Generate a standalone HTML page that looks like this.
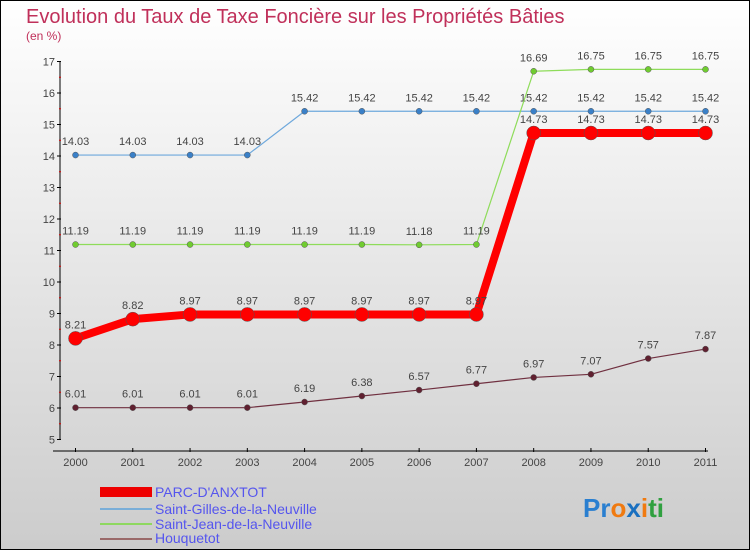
<!DOCTYPE html>
<html><head><meta charset="utf-8"><style>
body{margin:0}
#c{width:750px;height:550px;position:relative;overflow:hidden;box-sizing:border-box;border:1px solid #000;background:linear-gradient(#fff,#ccc);font-family:"Liberation Sans",sans-serif}
</style></head><body>
<div id="c">
<svg id="s" width="750" height="550" style="position:absolute;left:-1px;top:-1px">
<text x="26" y="23" font-size="20" fill="#c0305a">Evolution du Taux de Taxe Foncière sur les Propriétés Bâties</text>
<text x="26" y="40" font-size="12" fill="#c0305a">(en %)</text>
<g id="axes"></g><g id="series"></g>
<g>
<rect x="100" y="487" width="52" height="10" fill="#e00"/>
<text x="155" y="497" font-size="14" fill="#55e">PARC-D'ANXTOT</text>
<rect x="100" y="508" width="52" height="2" fill="#7aaed8"/>
<text x="155" y="514" font-size="14" fill="#55e">Saint-Gilles-de-la-Neuville</text>
<rect x="100" y="523" width="52" height="2" fill="#8ed860"/>
<text x="155" y="529" font-size="14" fill="#55e">Saint-Jean-de-la-Neuville</text>
<rect x="100" y="538" width="52" height="2" fill="#9a6a6a"/>
<text x="155" y="543" font-size="14" fill="#55e">Houquetot</text>
</g>
<text x="583" y="517" font-size="26" font-weight="bold"><tspan fill="#2a7fd0">Pr</tspan><tspan fill="#f07a10">o</tspan><tspan fill="#1a70c0">x</tspan><tspan fill="#f07a10">i</tspan><tspan fill="#30a040">ti</tspan></text>
</svg>
</div>
<script>
const years=[2000,2001,2002,2003,2004,2005,2006,2007,2008,2009,2010,2011];
const parc=[8.21,8.82,8.97,8.97,8.97,8.97,8.97,8.97,14.73,14.73,14.73,14.73];
const gilles=[14.03,14.03,14.03,14.03,15.42,15.42,15.42,15.42,15.42,15.42,15.42,15.42];
const jean=[11.19,11.19,11.19,11.19,11.19,11.19,11.18,11.19,16.69,16.75,16.75,16.75];
const houq=[6.01,6.01,6.01,6.01,6.19,6.38,6.57,6.77,6.97,7.07,7.57,7.87];
const yTicks=[5,6,7,8,9,10,11,12,13,14,15,16,17];
const NS="http://www.w3.org/2000/svg";
const X=i=>75.5+i*(705.5-75.5)/(years.length-1);
const Y=v=>439.5-(v-5)*31.5;
function mk(t,a,p){const e=document.createElementNS(NS,t);for(const k in a)e.setAttribute(k,a[k]);p.appendChild(e);return e;}
const ax=document.getElementById('axes');
let e=mk('line',{x1:60,y1:Y(17),x2:60,y2:Y(5),stroke:'#000'},ax);


e=mk('line',{x1:53,y1:451,x2:708,y2:451,stroke:'#000'},ax);


yTicks.forEach(v=>{
 mk('line',{x1:57,y1:Y(v),x2:61,y2:Y(v),stroke:'#000'},ax);
 if(v<17)mk('line',{x1:59,y1:Y(v+0.5),x2:61,y2:Y(v+0.5),stroke:'#d00'},ax);
 const t=mk('text',{x:55,y:Y(v)+4,'font-size':11,fill:'#444','text-anchor':'end'},ax);t.textContent=v;
 
 
});
years.forEach((y,i)=>{
 mk('line',{x1:X(i),y1:448,x2:X(i),y2:452,stroke:'#000'},ax);
 const t=mk('text',{x:X(i),y:466,'font-size':11,fill:'#444','text-anchor':'middle'},ax);t.textContent=y;
 
 
});
const sg=document.getElementById('series');
function series(name,vals,color,w,r,dot,lblOff){
 const g=mk('g',{},sg);
 
 
 const p=mk('polyline',{points:vals.map((v,i)=>X(i)+','+Y(v)).join(' '),fill:'none',stroke:color,'stroke-width':w,'stroke-linejoin':'round'},g);
 
 
 vals.forEach((v,i)=>{
  const c=mk('circle',{cx:X(i),cy:Y(v),r:r,fill:dot,stroke:'#555','stroke-width':0.5},g);
  
  
  const t=mk('text',{x:X(i),y:Y(v)+lblOff,'font-size':11,fill:'#444','text-anchor':'middle'},g);t.textContent=v;
  
  
 });
}
series('saint-gilles',gilles,'#6ea8dc',1.2,3,'#3a80c8',-10);
series('saint-jean',jean,'#8edc5a',1.2,3,'#70cc30',-10);
series('houquetot',houq,'#703040',1.2,3,'#602030',-10);
series('parc',parc,'#f00',8,7,'#f00',-10);
</script>
</body></html>
